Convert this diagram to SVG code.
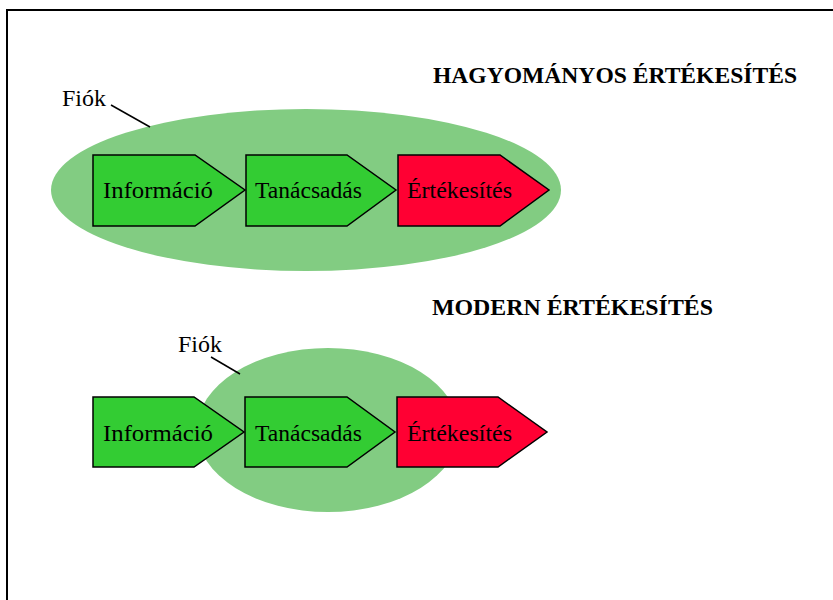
<svg xmlns="http://www.w3.org/2000/svg" width="833" height="600" viewBox="0 0 833 600">
  <style>
    .frame { fill: #ffffff; stroke: #000000; stroke-width: 2; }
    .branch { fill: #82cc82; stroke: none; }
    .step { stroke: #000000; stroke-width: 1.5; stroke-linejoin: miter; }
    .green { fill: #33cc33; }
    .red { fill: #ff0033; }
    .label { font-family: "Liberation Serif", "Times New Roman", serif; font-size: 24px; fill: #000000; }
    .title { font-family: "Liberation Serif", "Times New Roman", serif; font-size: 24px; font-weight: bold; fill: #000000; }
    .lead { stroke: #000000; stroke-width: 1.5; fill: none; }
  </style>

  <rect x="0" y="0" width="833" height="600" fill="#ffffff"/>
  <rect class="frame" x="7" y="10" width="840" height="600"/>

  <!-- Traditional sales -->
  <text class="title" x="433" y="83" textLength="364" lengthAdjust="spacingAndGlyphs">HAGYOMÁNYOS ÉRTÉKESÍTÉS</text>

  <g id="fiok-1">
    <ellipse class="branch" cx="306" cy="190" rx="255" ry="81"/>
    <text class="label" x="62" y="106">Fiók</text>
  </g>

  <g id="informacio-1">
    <polygon class="step green" points="93,155 195,155 245,190 195,226 93,226"/>
    <text class="label" x="103" y="198" textLength="110" lengthAdjust="spacingAndGlyphs">Információ</text>
  </g>
  <g id="tanacsadas-1">
    <polygon class="step green" points="246,155 347,155 396,190 347,226 246,226"/>
    <text class="label" x="255" y="198" textLength="107" lengthAdjust="spacingAndGlyphs">Tanácsadás</text>
  </g>
  <g id="ertekesites-1">
    <polygon class="step red" points="398,155 500,155 549,190 500,226 398,226"/>
    <text class="label" x="407" y="198" textLength="105" lengthAdjust="spacingAndGlyphs">Értékesítés</text>
  </g>

  <!-- Modern sales -->
  <text class="title" x="432" y="315" textLength="281" lengthAdjust="spacingAndGlyphs">MODERN ÉRTÉKESÍTÉS</text>

  <g id="fiok-2">
    <ellipse class="branch" cx="328" cy="430" rx="131" ry="82"/>
    <text class="label" x="178" y="352">Fiók</text>
  </g>

  <g id="informacio-2">
    <polygon class="step green" points="93,397 194,397 244,432 194,467 93,467"/>
    <text class="label" x="103" y="441" textLength="110" lengthAdjust="spacingAndGlyphs">Információ</text>
  </g>
  <g id="tanacsadas-2">
    <polygon class="step green" points="245,397 347,397 395,432 347,467 245,467"/>
    <text class="label" x="255" y="441" textLength="107" lengthAdjust="spacingAndGlyphs">Tanácsadás</text>
  </g>
  <g id="ertekesites-2">
    <polygon class="step red" points="397,397 498,397 547,432 498,467 397,467"/>
    <text class="label" x="407" y="441" textLength="105" lengthAdjust="spacingAndGlyphs">Értékesítés</text>
  </g>

  <g id="connectors">
    <line class="lead" x1="111" y1="105" x2="150" y2="127"/>
    <line class="lead" x1="211" y1="357" x2="240" y2="374"/>
  </g>
</svg>
